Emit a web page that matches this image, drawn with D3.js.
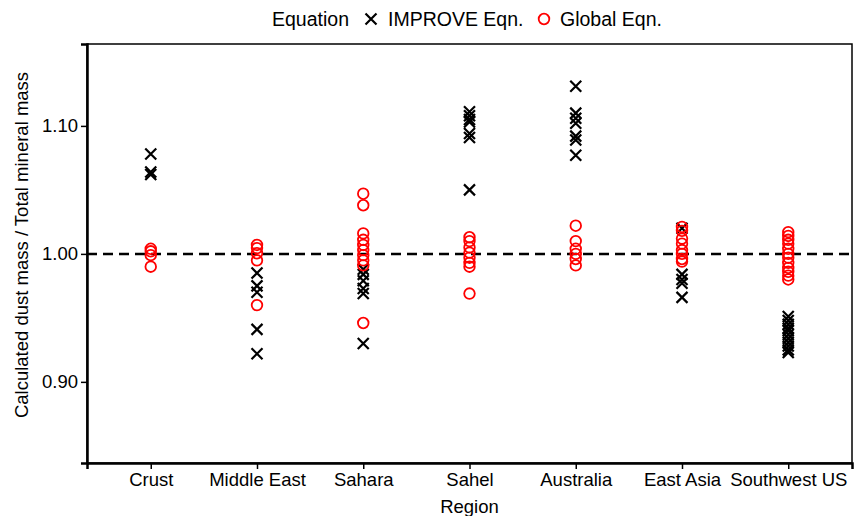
<!DOCTYPE html>
<html>
<head>
<meta charset="utf-8">
<script src="https://cdn.jsdelivr.net/npm/d3@7"></script>
<style>
  body { margin: 0; background: #fff; }
  text { font-family: "Liberation Sans", Arial, sans-serif; }
</style>
</head>
<body>
<svg id="chart"></svg>
<script>
const regions = ["Crust", "Middle East", "Sahara", "Sahel", "Australia", "East Asia", "Southwest US"];

// IMPROVE equation ratios per region
const improve = {
  "Crust": [1.078, 1.064, 1.062],
  "Middle East": [0.985, 0.975, 0.970, 0.941, 0.922],
  "Sahara": [0.988, 0.984, 0.979, 0.973, 0.969, 0.930],
  "Sahel": [1.111, 1.108, 1.105, 1.103, 1.094, 1.091, 1.050],
  "Australia": [1.131, 1.110, 1.106, 1.102, 1.092, 1.089, 1.077],
  "East Asia": [1.020, 0.984, 0.980, 0.977, 0.966],
  "Southwest US": [0.951, 0.948, 0.945, 0.942, 0.940, 0.937, 0.934, 0.931, 0.928, 0.925, 0.923]
};

// Global equation ratios per region
const globalEqn = {
  "Crust": [1.004, 1.002, 0.999, 0.990],
  "Middle East": [1.007, 1.0045, 1.0005, 0.995, 0.960],
  "Sahara": [1.047, 1.038, 1.016, 1.011, 1.007, 1.003, 0.999, 0.995, 0.991, 0.946],
  "Sahel": [1.013, 1.010, 1.005, 1.001, 0.997, 0.993, 0.990, 0.969],
  "Australia": [1.022, 1.010, 1.004, 1.000, 0.996, 0.991],
  "East Asia": [1.021, 1.018, 1.012, 1.008, 1.003, 1.000, 0.996, 0.994],
  "Southwest US": [1.017, 1.014, 1.011, 1.008, 1.004, 1.000, 0.997, 0.993, 0.989, 0.986, 0.983, 0.980]
};

const yTicks = [0.90, 1.00, 1.10];

const width = 854, height = 516;
const margin = { top: 44, right: 2, bottom: 53, left: 87 };
const fs = "18.5px";

const svg = d3.select("#chart")
  .attr("width", width)
  .attr("height", height);

const x = d3.scalePoint()
  .domain(regions)
  .range([margin.left, width - margin.right])
  .padding(0.6);

const y = d3.scaleLinear()
  .domain([0.8366, 1.164])
  .range([height - margin.bottom, margin.top]);

// frame
svg.append("rect")
  .attr("x", margin.left)
  .attr("y", margin.top)
  .attr("width", width - margin.right - margin.left)
  .attr("height", height - margin.bottom - margin.top)
  .attr("fill", "none")
  .attr("stroke", "#000")
  .attr("stroke-width", 1.5);

// reference line at 1
svg.append("line")
  .attr("x1", margin.left)
  .attr("x2", width - margin.right)
  .attr("y1", y(1))
  .attr("y2", y(1))
  .attr("stroke", "#000")
  .attr("stroke-width", 2.5)
  .attr("stroke-dasharray", "10,6");

// axes
const xAxis = svg.append("g")
  .attr("transform", `translate(0,${height - margin.bottom})`)
  .call(d3.axisBottom(x).tickSize(6).tickPadding(4));

const yAxis = svg.append("g")
  .attr("transform", `translate(${margin.left},0)`)
  .call(d3.axisLeft(y).tickValues(yTicks).tickFormat(d3.format(".2f")).tickSize(6).tickPadding(3));

[xAxis, yAxis].forEach(a => {
  a.select(".domain").attr("stroke-width", 2.5);
  a.selectAll(".tick line").attr("stroke-width", 1.5);
  a.selectAll("text")
    .attr("fill", "#000")
    .style("font-size", fs)
    .style("font-family", "Liberation Sans, Arial, sans-serif");
});

// points
const crossPts = regions.flatMap(r => improve[r].map(v => ({ r, v })));
const circPts = regions.flatMap(r => globalEqn[r].map(v => ({ r, v })));

const s = 5.5;
const crossPath = (cx, cy) =>
  `M${cx - s},${cy - s}L${cx + s},${cy + s}M${cx - s},${cy + s}L${cx + s},${cy - s}`;

svg.append("g")
  .selectAll("path")
  .data(crossPts)
  .join("path")
  .attr("d", d => crossPath(x(d.r), y(d.v)))
  .attr("stroke", "#000")
  .attr("stroke-width", 2.2)
  .attr("fill", "none");

svg.append("g")
  .selectAll("circle")
  .data(circPts)
  .join("circle")
  .attr("cx", d => x(d.r))
  .attr("cy", d => y(d.v))
  .attr("r", 5.3)
  .attr("stroke", "#ff0000")
  .attr("stroke-width", 1.8)
  .attr("fill", "none");

// axis titles
svg.append("text")
  .attr("x", (margin.left + width - margin.right) / 2)
  .attr("y", 513)
  .attr("text-anchor", "middle")
  .style("font-size", fs)
  .text("Region");

svg.append("text")
  .attr("transform", "translate(28,245) rotate(-90)")
  .attr("text-anchor", "middle")
  .style("font-size", fs)
  .text("Calculated dust mass / Total mineral mass");

// legend
const lfs = "19.5px";
const lg = svg.append("g").attr("transform", "translate(0,19)");
lg.append("text").attr("x", 272).attr("y", 7).style("font-size", lfs).text("Equation");
lg.append("path").attr("d", crossPath(371, 0)).attr("stroke", "#000").attr("stroke-width", 2.2);
lg.append("text").attr("x", 388).attr("y", 7).style("font-size", lfs).text("IMPROVE Eqn.");
lg.append("circle").attr("cx", 544).attr("cy", 0).attr("r", 5.3)
  .attr("stroke", "#ff0000").attr("stroke-width", 1.8).attr("fill", "none");
lg.append("text").attr("x", 560).attr("y", 7).style("font-size", lfs).text("Global Eqn.");
</script>
</body>
</html>
